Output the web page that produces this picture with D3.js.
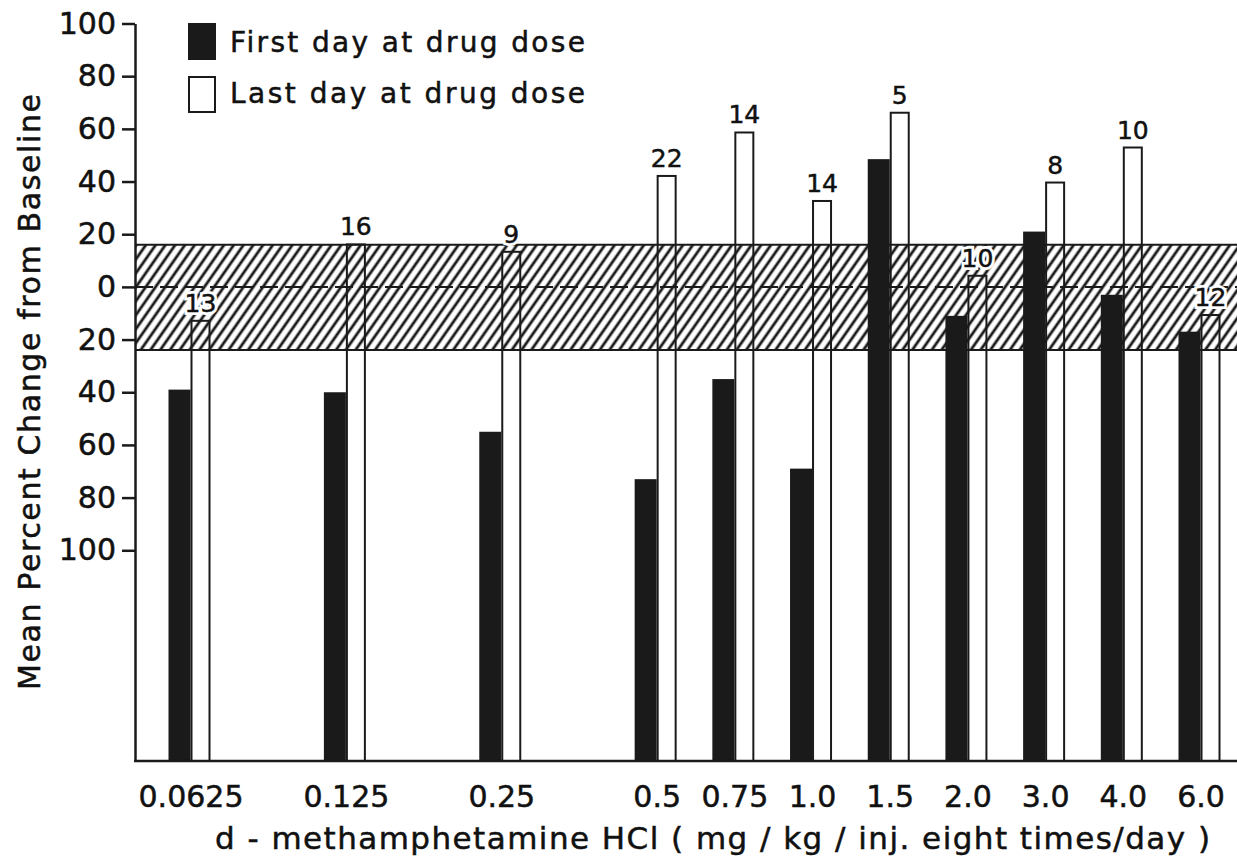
<!DOCTYPE html>
<html lang="en">
    <head>
        <meta charset="UTF-8"/>
        <title>Mean Percent Change from Baseline - d-methamphetamine</title>
        <script src="https://d3js.org/d3.v7.min.js"></script>
        <style>
            body { margin: 0; background: #fff; }
            text { font-family: "DejaVu Sans", sans-serif; fill: #111; stroke: #111; stroke-width: 0.5px; }
        </style>
    </head>

    <body>
        <script>
        // doses on the x axis
        var doses = ["0.0625", "0.125", "0.25", "0.5", "0.75", "1.0", "1.5", "2.0", "3.0", "4.0", "6.0"];
        // first day at drug dose (black bars)
        var firstDay = [-39, -40, -55, -73, -35, -69, 48.5, -11, 21, -3, -17];
        // last day at drug dose (open bars)
        var lastDay = [-12.5, 16.5, 13.7, 42.5, 59, 33, 66.5, 4.6, 40, 53.3, -10.3];
        // numbers written above the open bars
        var nLabels = [13, 16, 9, 22, 14, 14, 5, 10, 8, 10, 12];
        var yTicks = [100, 80, 60, 40, 20, 0, -20, -40, -60, -80, -100];
        // hatched baseline range
        var baseBand = [-24, 16];
        // first four doses sit two slots apart
        var slots = ["0.0625", "s1", "0.125", "s2", "0.25", "s3", "0.5", "0.75", "1.0", "1.5", "2.0", "3.0", "4.0", "6.0"];

        var w = 1237;
        var h = 858;
        var left = 135;
        var bottom = 761;

        var svg = d3.select("body")
                    .append("svg")
                    .attr("width", w)
                    .attr("height", h);

        var xScale = d3.scalePoint()
                        .domain(slots)
                        .range([190.5, 1200.5]);

        var yScale = d3.scaleLinear()
                        .domain([100, -180])
                        .range([23.5, bottom]);

        /* hatch pattern */
        var pat = svg.append("defs").append("pattern")
            .attr("id", "hatch")
            .attr("patternUnits", "userSpaceOnUse")
            .attr("width", 8)
            .attr("height", 8)
            .attr("patternTransform", "rotate(35)");
        pat.append("rect").attr("width", 8).attr("height", 8).attr("fill", "#fff");
        pat.append("line")
            .attr("x1", 4).attr("y1", 0).attr("x2", 4).attr("y2", 8)
            .attr("stroke", "#1a1a1a")
            .attr("stroke-width", 2.8);

        svg.append("rect")
            .attr("x", left)
            .attr("y", yScale(baseBand[1]))
            .attr("width", w - left)
            .attr("height", yScale(baseBand[0]) - yScale(baseBand[1]))
            .attr("fill", "url(#hatch)");

        svg.selectAll(".bandedge")
            .data(baseBand)
            .enter()
            .append("line")
            .attr("x1", left)
            .attr("x2", w)
            .attr("y1", d => yScale(d))
            .attr("y2", d => yScale(d))
            .attr("stroke", "#1a1a1a")
            .attr("stroke-width", 2);

        svg.append("line")
            .attr("x1", left)
            .attr("x2", w)
            .attr("y1", yScale(0))
            .attr("y2", yScale(0))
            .attr("stroke", "#1a1a1a")
            .attr("stroke-width", 2)
            .attr("stroke-dasharray", "18,7");

        /* black bars */
        svg.selectAll(".first")
            .data(doses)
            .enter()
            .append("rect")
            .attr("x", d => xScale(d) - 22)
            .attr("y", (d, i) => yScale(firstDay[i]))
            .attr("width", 22)
            .attr("height", (d, i) => bottom - yScale(firstDay[i]))
            .attr("fill", "#1a1a1a");

        /* open bars, hatch shows through */
        svg.selectAll(".last")
            .data(doses)
            .enter()
            .append("rect")
            .attr("x", d => xScale(d) + 1)
            .attr("y", (d, i) => yScale(lastDay[i]) + 1)
            .attr("width", 18)
            .attr("height", (d, i) => bottom - yScale(lastDay[i]) - 1)
            .attr("fill", "none")
            .attr("stroke", "#1a1a1a")
            .attr("stroke-width", 2);

        /* n labels with a white halo */
        svg.selectAll(".halo")
            .data(doses)
            .enter()
            .append("text")
            .text((d, i) => nLabels[i])
            .attr("x", d => xScale(d) + 10)
            .attr("y", (d, i) => yScale(lastDay[i]) - 8)
            .attr("text-anchor", "middle")
            .attr("font-size", "25px")
            .style("fill", "#fff")
            .style("stroke", "#fff")
            .style("stroke-width", "6px");

        svg.selectAll(".nlab")
            .data(doses)
            .enter()
            .append("text")
            .text((d, i) => nLabels[i])
            .attr("x", d => xScale(d) + 10)
            .attr("y", (d, i) => yScale(lastDay[i]) - 8)
            .attr("text-anchor", "middle")
            .attr("font-size", "25px");

        /* axes */
        var yAxis = d3.axisLeft(yScale)
                      .tickValues(yTicks)
                      .tickFormat(d => Math.abs(d))
                      .tickSize(13)
                      .tickSizeOuter(0)
                      .tickPadding(6);

        var gy = svg.append("g")
            .attr("transform", "translate(" + left + ",0)")
            .call(yAxis);
        gy.selectAll("path, line").attr("stroke", "#1a1a1a").attr("stroke-width", 2.5);
        gy.selectAll("text")
            .attr("font-family", "DejaVu Sans, sans-serif")
            .attr("font-size", "30px")
            .attr("fill", "#111");

        svg.append("line")
            .attr("x1", left - 1)
            .attr("x2", w)
            .attr("y1", bottom)
            .attr("y2", bottom)
            .attr("stroke", "#1a1a1a")
            .attr("stroke-width", 2.5);

        var xAxis = d3.axisBottom(xScale)
                      .tickValues(doses)
                      .tickSize(0)
                      .tickPadding(25);

        var gx = svg.append("g")
            .attr("transform", "translate(0," + bottom + ")")
            .call(xAxis);
        gx.select(".domain").remove();
        gx.selectAll("text")
            .attr("font-family", "DejaVu Sans, sans-serif")
            .attr("font-size", "30px")
            .attr("fill", "#111");

        /* axis titles */
        svg.append("text")
            .text("d - methamphetamine  HCl ( mg / kg / inj.  eight  times/day )")
            .attr("x", 215)
            .attr("y", 849)
            .attr("font-size", "31px")
            .attr("textLength", 995)
            .attr("lengthAdjust", "spacing");

        svg.append("text")
            .text("Mean  Percent  Change  from  Baseline")
            .attr("transform", "translate(40,690) rotate(-90)")
            .attr("font-size", "30px")
            .attr("textLength", 596)
            .attr("lengthAdjust", "spacing");

        /* legend */
        svg.append("rect")
            .attr("x", 188).attr("y", 23)
            .attr("width", 28).attr("height", 37)
            .attr("fill", "#1a1a1a");
        svg.append("rect")
            .attr("x", 189).attr("y", 77)
            .attr("width", 26).attr("height", 35)
            .attr("fill", "#fff")
            .attr("stroke", "#1a1a1a")
            .attr("stroke-width", 2);

        svg.append("text")
            .text("First day at drug dose")
            .attr("x", 230).attr("y", 52)
            .attr("font-size", "28px")
            .attr("textLength", 355)
            .attr("lengthAdjust", "spacing");
        svg.append("text")
            .text("Last day at drug dose")
            .attr("x", 230).attr("y", 103)
            .attr("font-size", "28px")
            .attr("textLength", 355)
            .attr("lengthAdjust", "spacing");
        </script>
    </body>
</html>
